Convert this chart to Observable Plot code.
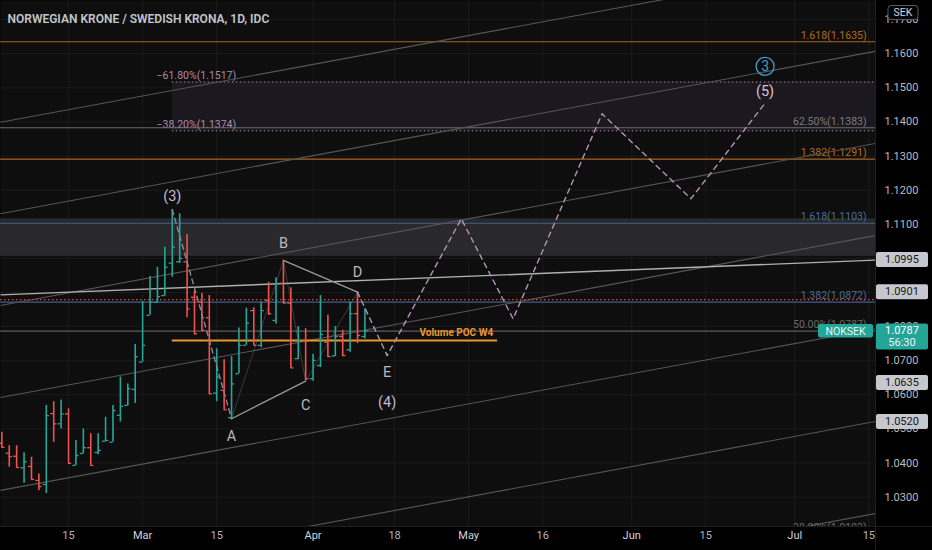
<!DOCTYPE html>
<html><head><meta charset="utf-8">
<script src="https://cdn.jsdelivr.net/npm/d3@7"></script>
<script src="https://cdn.jsdelivr.net/npm/@observablehq/plot@0.6"></script>
<style>
html,body{margin:0;padding:0;background:#000;overflow:hidden;}
#chart svg{display:block;}
</style></head><body><div id="chart"></div>
<script>
// ---- data: daily bars, index 0 = 15 Feb 2022 (weekday bars) ----
const barIndex = [-9,-8,-7,-6,-5,-4,-3,-2,-1,0,1,2,3,4,5,6,7,8,9,10,11,12,13,14,15,16,17,18,19,20,21,22,23,24,25,26,27,28,29,30,31,32,33,34,35,36,37,38,39,40];
const open  = [1.0458,1.0429,1.0420,1.0386,1.0390,1.0349,1.0337,1.0545,1.0515,1.0544,1.0393,1.0428,1.0445,1.0431,1.0464,1.0461,1.0540,1.0569,1.0616,1.0696,1.0833,1.0871,1.0891,1.0986,1.0990,1.0990,1.0886,1.0872,1.0826,1.0605,1.0613,1.0533,1.0662,1.0745,1.0847,1.0745,1.0877,1.0818,1.0927,1.0869,1.0706,1.0759,1.0647,1.0686,1.0754,1.0714,1.0771,1.0732,1.0838,1.0771];
const high  = [1.0490,1.0451,1.0451,1.0430,1.0417,1.0368,1.0569,1.0580,1.0585,1.0559,1.0466,1.0500,1.0486,1.0486,1.0534,1.0569,1.0652,1.0632,1.0748,1.0874,1.0947,1.0974,1.1033,1.1143,1.1131,1.1070,1.0904,1.0898,1.0891,1.0735,1.0703,1.0712,1.0796,1.0854,1.0855,1.0872,1.0930,1.0943,1.0994,1.0914,1.0800,1.0794,1.0718,1.0891,1.0833,1.0800,1.0789,1.0872,1.0901,1.0852];
const low   = [1.0445,1.0388,1.0386,1.0341,1.0351,1.0319,1.0311,1.0461,1.0500,1.0398,1.0393,1.0427,1.0393,1.0424,1.0464,1.0461,1.0520,1.0567,1.0575,1.0696,1.0833,1.0869,1.0889,1.0945,1.0985,1.0826,1.0776,1.0786,1.0601,1.0580,1.0556,1.0530,1.0662,1.0745,1.0745,1.0738,1.0833,1.0808,1.0867,1.0679,1.0703,1.0642,1.0640,1.0680,1.0710,1.0712,1.0712,1.0725,1.0750,1.0764];
const close = [1.0446,1.0419,1.0387,1.0404,1.0352,1.0331,1.0539,1.0515,1.0544,1.0399,1.0422,1.0445,1.0393,1.0437,1.0466,1.0554,1.0566,1.0618,1.0712,1.0745,1.0872,1.0888,1.0974,1.1033,1.1000,1.0852,1.0779,1.0789,1.0603,1.0652,1.0556,1.0632,1.0745,1.0810,1.0745,1.0847,1.0838,1.0927,1.0869,1.0679,1.0759,1.0647,1.0701,1.0777,1.0712,1.0771,1.0715,1.0838,1.0774,1.0787];

// axis ticks
const yTicks = [1.03,1.04,1.05,1.06,1.07,1.08,1.09,1.10,1.11,1.12,1.13,1.14,1.15,1.16,1.17];
const xTickIdx = [0,10,20,33,44,54,64,76,86,98,108];
const xTickLabels = ["15","Mar","15","Apr","18","May","16","Jun","15","Jul","15"];
const xTickIsMonth = [false,true,false,true,false,true,false,true,false,true,false];

// fib / level lines (full width)
const levelPrice = [1.1635,1.1383,1.1291,1.1103,1.0872,1.0787];
const levelLabel = ["1.618(1.1635)","62.50%(1.1383)","1.382(1.1291)","1.618(1.1103)","1.382(1.0872)","50.00%(1.0787)"];
const levelColor = ["#a9671d","#6b6b6b","#a9671d","#3f5f8c","#3f5f8c","#5e5e5e"];
const levelText  = ["#b06d1f","#7d7d7d","#b06d1f","#4b6d9c","#4b6d9c","#6a6a6a"];

// fib retracement box (left labels)
const fibBoxPrice = [1.1517,1.1374];
const fibBoxLabel = ["\u221261.80%(1.1517)","\u221238.20%(1.1374)"];
const fibBoxStart = 14;

// resistance zone
const zoneLow = 1.1006, zoneHigh = 1.1116;

// parallel channel lines: price at left edge and right edge
const chanLeft  = [1.1399,1.1131,1.0862,1.0592,1.0320,1.0047,0.9777];
const chanRight = [1.1874,1.1607,1.1337,1.1067,1.0794,1.0522,1.0252];

// horizontal-ish ray to 1.0995
const rayLeft = 1.0893, rayRight = 1.0995;
// red dotted line
const redDotted = 1.0879;
// Volume POC W4
const pocPrice = 1.0759, pocFrom = 14, pocTo = 57.9;

// Elliott wave points
const wave3ToA = [{i:14,p:1.1143},{i:22,p:1.0530}];
const triAC = [{i:22,p:1.0530},{i:32,p:1.0640}];
const triBD = [{i:29,p:1.0994},{i:39,p:1.0901}];
const wavePath = [{i:22,p:1.0530},{i:29,p:1.0994},{i:32,p:1.0640},{i:39,p:1.0901}];
const projection = [{i:39,p:1.0901},{i:43,p:1.0715},{i:53,p:1.1116},{i:60,p:1.0823},{i:72,p:1.1424},{i:84,p:1.1175},{i:94,p:1.1455}];
const waveLabels = [
  {i:14,p:1.1181,t:"(3)",c:"#c6b9cf"},
  {i:22,p:1.0478,t:"A",c:"#b9b9bd"},
  {i:29,p:1.1043,t:"B",c:"#b9b9bd"},
  {i:32,p:1.0569,t:"C",c:"#b9b9bd"},
  {i:39,p:1.0960,t:"D",c:"#b9b9bd"},
  {i:43,p:1.0666,t:"E",c:"#b9b9bd"},
  {i:43,p:1.0578,t:"(4)",c:"#c6b9cf"},
  {i:94,p:1.1490,t:"(5)",c:"#d3c3d8"}
];
const circled3 = {i:94,p:1.1563};

// axis price boxes
const boxPrice = [1.0995,1.0901,1.0635,1.0520];
const lastPrice = 1.0787, countdown = "56:30", symbol = "NOKSEK", currency = "SEK";

const xMin = -9.18, xMax = 108.9;
const bars = barIndex.map((i,k)=>({i,o:open[k],h:high[k],l:low[k],c:close[k]}));
const barColor = d => d.c >= d.o ? "#26a69a" : "#ef5350";
const levels = levelPrice.map((p,k)=>({p,label:levelLabel[k],color:levelColor[k],tc:levelText[k]}));
const fibBox = fibBoxPrice.map((p,k)=>({p,label:fibBoxLabel[k]}));
const chans = chanLeft.map((p,k)=>({x1:xMin,y1:p,x2:xMax,y2:chanRight[k]}));
const xticks = xTickIdx.map((i,k)=>({i,t:xTickLabels[k],m:xTickIsMonth[k]}));
const FONT = "Roboto, 'Noto Sans', sans-serif";

const plot = Plot.plot({
  width: 932, height: 550,
  marginTop: 0, marginBottom: 24, marginLeft: 0, marginRight: 57,
  style: {background: "#000", fontFamily: FONT},
  x: {domain: [xMin, xMax], axis: null},
  y: {domain: [1.0214, 1.1756], axis: null},
  marks: [
    Plot.frame({fill: "#0e0e0e", stroke: null}),
    Plot.ruleY(yTicks, {stroke: "#1b1b1b", strokeWidth: 1}),
    Plot.ruleX(xTickIdx, {stroke: "#1b1b1b", strokeWidth: 1}),
    // fib box + zone
    Plot.rect([0], {x1: fibBoxStart, x2: xMax, y1: fibBoxPrice[1], y2: fibBoxPrice[0], fill: "#1c1820"}),
    Plot.rect([0], {x1: xMin, x2: xMax, y1: zoneLow, y2: zoneHigh, fill: "#29292b"}),
    Plot.ruleY(fibBox, {y: "p", x1: fibBoxStart, x2: xMax, stroke: "#a889aa", strokeDasharray: "1.5,2.5", strokeWidth: 1}),
    Plot.text(fibBox, {x: 11.88, y: "p", text: "label", textAnchor: "start", dy: -6, fill: "#ab8cad", fontSize: 10.5}),
    Plot.ruleY(levels, {y: "p", x1: xMin, x2: xMax, stroke: "color", strokeWidth: 1.2}),
    Plot.text(levels, {x: 107.7, y: "p", text: "label", textAnchor: "end", dy: -6.5, fill: "tc", fontSize: 10.5}),
    // channel lines
    Plot.link(chans, {x1: "x1", y1: "y1", x2: "x2", y2: "y2", stroke: "#565656", strokeWidth: 1.1, clip: true}),
    // ray to 1.0995
    Plot.link([0], {x1: xMin, y1: rayLeft, x2: xMax, y2: rayRight, stroke: "#b0b0b4", strokeWidth: 1.4}),
    Plot.ruleY([redDotted], {stroke: "#d9483c", strokeDasharray: "1.5,2.5", strokeWidth: 1.2}),
    // POC
    Plot.ruleY([pocPrice], {x1: pocFrom, x2: pocTo, stroke: "#e8962c", strokeWidth: 2}),
    Plot.text([pocPrice], {x: pocTo - 0.6, y: d => d, text: ["Volume POC W4"], textAnchor: "end", dy: -8, fill: "#e8962c", fontSize: 10, fontWeight: "bold"}),
    // faint wave path
    Plot.line(wavePath, {x: "i", y: "p", stroke: "#8a8a8a", strokeOpacity: 0.35, strokeWidth: 1}),
    // OHLC bars
    Plot.ruleX(bars, {x: "i", y1: "l", y2: "h", stroke: barColor, strokeWidth: 1.6}),
    Plot.ruleY(bars, {y: "o", x1: d => d.i - 0.42, x2: "i", stroke: barColor, strokeWidth: 1.3}),
    Plot.ruleY(bars, {y: "c", x1: "i", x2: d => d.i + 0.42, stroke: barColor, strokeWidth: 1.3}),
    // waves
    Plot.line(wave3ToA, {x: "i", y: "p", stroke: "#8f8496", strokeWidth: 1.4, strokeDasharray: "5,4"}),
    Plot.line(triAC, {x: "i", y: "p", stroke: "#9a9a9e", strokeWidth: 1.3}),
    Plot.line(triBD, {x: "i", y: "p", stroke: "#9a9a9e", strokeWidth: 1.3}),
    Plot.line(projection, {x: "i", y: "p", stroke: "#b892bd", strokeWidth: 1.4, strokeDasharray: "5,4.5"}),
    Plot.text(waveLabels, {x: "i", y: "p", text: "t", fill: "c", fontSize: 14.5}),
    Plot.dot([circled3], {x: "i", y: "p", r: 9, stroke: "#3f9fc6", strokeWidth: 1.3, fill: "none"}),
    Plot.text([circled3], {x: "i", y: "p", text: ["3"], fill: "#3f9fc6", fontSize: 14}),
    // clipped bottom fib label
    Plot.text([1.0193], {x: 107.7, y: d => d, text: ["38.20%(1.0193)"], textAnchor: "end", dy: -6.5, fill: "#6a6a6a", fontSize: 10.5, clip: true}),
    // x axis labels
    Plot.text(xticks, {x: "i", text: "t", frameAnchor: "bottom", dy: 12.5, fill: d => d.m ? "#d1d4dc" : "#b2b5be", fontWeight: d => d.m ? "bold" : "normal", fontSize: 11}),
    // right axis panel
    Plot.rect([0], {x1: xMax, x2: xMax + 20, y1: 0.99, y2: 1.20, fill: "#000"}),
    Plot.text(yTicks, {x: xMax, y: d => d, text: d => d.toFixed(4), textAnchor: "start", dx: 9, fill: "#b8bbc2", fontSize: 11}),
    // title
    Plot.text(["NORWEGIAN KRONE / SWEDISH KRONA, 1D, IDC"], {frameAnchor: "top-left", dx: 7, dy: 14, fill: "#c3c6cc", fontSize: 12, fontWeight: 600})
  ]
});

document.getElementById("chart").appendChild(plot);

// price boxes on the axis, placed with the plot's own y scale
const ys = plot.scale("y");
const svg = d3.select(plot);
const g = svg.append("g").style("font-family", FONT).style("font-size", "11px");
// borders
g.append("line").attr("x1",875.5).attr("x2",875.5).attr("y1",0).attr("y2",550).attr("stroke","#1f1f1f");
g.append("line").attr("x1",0).attr("x2",932).attr("y1",526.5).attr("y2",526.5).attr("stroke","#1f1f1f");
boxPrice.forEach(p => {
  const y = ys.apply(p);
  g.append("rect").attr("x",876).attr("y",y-7.5).attr("width",52).attr("height",15).attr("rx",2).attr("fill","#c6c8cd");
  g.append("text").attr("x",902).attr("y",y).attr("text-anchor","middle").attr("dominant-baseline","central").attr("fill","#131722").text(p.toFixed(4));
});
{
  const y = ys.apply(lastPrice);
  g.append("rect").attr("x",876).attr("y",y-7).attr("width",52).attr("height",26).attr("rx",2).attr("fill","#23a597");
  g.append("text").attr("x",902).attr("y",y).attr("text-anchor","middle").attr("dominant-baseline","central").attr("fill","#ffffff").text(lastPrice.toFixed(4));
  g.append("text").attr("x",902).attr("y",y+12).attr("text-anchor","middle").attr("dominant-baseline","central").attr("fill","#e8f6f4").text(countdown);
  g.append("rect").attr("x",818).attr("y",y-6.5).attr("width",55).attr("height",13.5).attr("rx",2).attr("fill","#23a597");
  g.append("text").attr("x",845.5).attr("y",y+0.5).attr("text-anchor","middle").attr("dominant-baseline","central").attr("fill","#e9f7f5").style("font-size","10.5px").text(symbol);
}
g.append("rect").attr("x",888).attr("y",5.5).attr("width",30).attr("height",14).attr("rx",3).attr("fill","#050505").attr("stroke","#5a5a5a");
g.append("text").attr("x",903).attr("y",12.8).attr("text-anchor","middle").attr("dominant-baseline","central").attr("fill","#d1d4dc").style("font-size","10.5px").text(currency);
</script>
</body></html>
